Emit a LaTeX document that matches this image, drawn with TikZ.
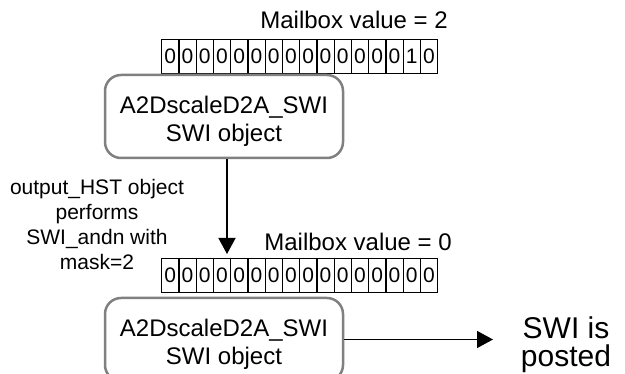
\documentclass[tikz,border=0pt]{standalone}
\usepackage{fontspec}
\setmainfont{Liberation Sans}
\usetikzlibrary{arrows.meta}
\definecolor{boxgray}{RGB}{128,128,128}
\begin{document}
\begin{tikzpicture}[x=1pt,y=-1pt,
  lbl/.style={inner sep=0pt, font=\fontsize{24}{28}\selectfont},
  bitcell/.style={draw, line width=1.3pt, minimum width=17.25pt, minimum height=34pt, inner sep=0pt, anchor=north west, font=\fontsize{21}{21}\selectfont},
  swibox/.style={draw=boxgray, line width=2.5pt, rounded corners=16pt, minimum width=238pt, minimum height=83pt, inner sep=0pt},
  boxtext/.style={align=center, inner sep=0pt, font=\fontsize{24}{28}\selectfont},
  arr/.style={line width=1.5pt, -{Triangle[width=17pt,length=16pt]}}]
\useasboundingbox (0,0) rectangle (625,374);

% top mailbox
\node[lbl, anchor=base east] (mb2) at (448,29) {Mailbox value = 2};
\foreach \b [count=\i from 0] in {0,0,0,0,0,0,0,0,0,0,0,0,0,0,1,0}
  \node[bitcell] (ta\i) at ({161+17.25*\i},39) {\b};

\node[swibox] (swi1) at (224,116.5) {};
\node[boxtext, anchor=base] (swi1t) at (224,142) {A2DscaleD2A\_SWI\\SWI object};

% note
\node[align=center, inner sep=0pt, font=\fontsize{21}{25}\selectfont, anchor=base] (note) at (97,270)
  {output\_HST object\\performs\\SWI\_andn with\\mask=2};

\coordinate (tip1) at (227,254);
\draw[arr] (swi1.south -| tip1) -- (tip1);

% bottom mailbox
\node[lbl, anchor=base east] (mb0) at (452,251) {Mailbox value = 0};
\foreach \b [count=\i from 0] in {0,0,0,0,0,0,0,0,0,0,0,0,0,0,0,0}
  \node[bitcell] (tb\i) at ({161+17.25*\i},258) {\b};

\node[swibox] (swi2) at (224,339.5) {};
\node[boxtext, anchor=base] (swi2t) at (224,365) {A2DscaleD2A\_SWI\\SWI object};

\node[align=center, inner sep=0pt, font=\fontsize{30}{28}\selectfont, anchor=base] (posted) at (566,367) {SWI is\\posted};
\coordinate (tip2) at (493,339.5);
\draw[arr] (swi2.east) -- (tip2);
\end{tikzpicture}
\end{document}
